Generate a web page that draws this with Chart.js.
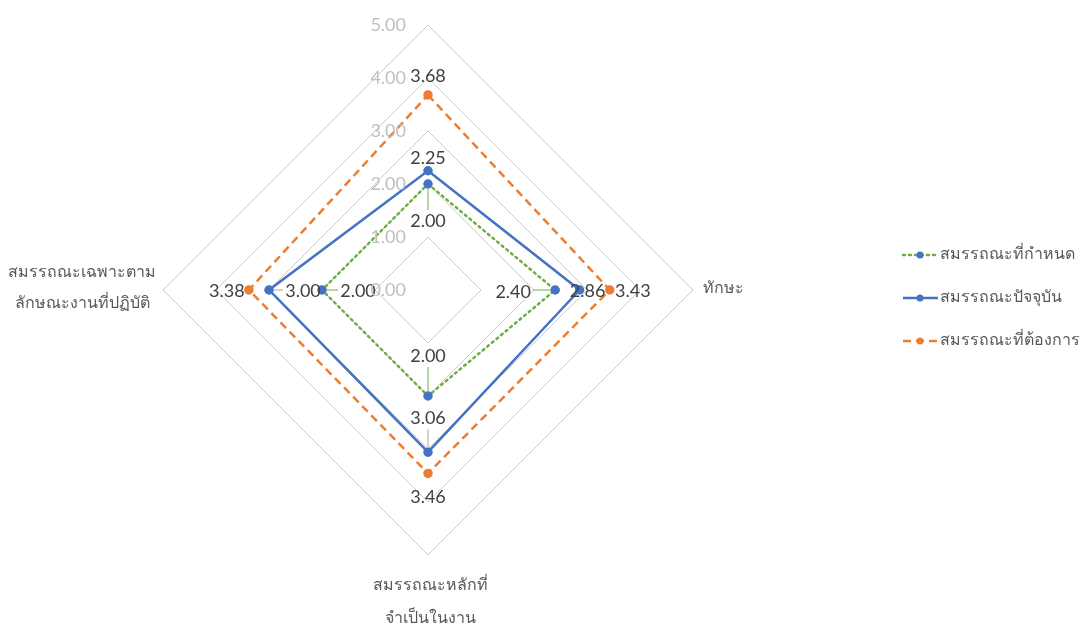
<!DOCTYPE html>
<html>
<head>
<meta charset="utf-8">
<script src="https://cdn.jsdelivr.net/npm/chart.js@4.4.1/dist/chart.umd.min.js"></script>
<style>
  html, body { margin: 0; padding: 0; background: #fff; }
</style>
</head>
<body>
<canvas id="myChart" width="1080" height="628"></canvas>
<script>
const categories = ["", "ทักษะ", ["สมรรถณะหลักที่", "จำเป็นในงาน"], ["สมรรถณะเฉพาะตาม", "ลักษณะงานที่ปฏิบัติ"]];
const seriesNames = ["สมรรถณะที่กำหนด", "สมรรถณะปัจจุบัน", "สมรรถณะที่ต้องการ"];
const definedValues = [2.00, 2.40, 2.00, 2.00];
const currentValues = [2.25, 2.86, 3.06, 3.00];
const desiredValues = [3.68, 3.43, 3.46, 3.38];
const tickValues = [0, 1, 2, 3, 4, 5];

const numFont = "18px Lato, 'Liberation Sans', sans-serif";
const thaiFont = "16px 'Noto Sans', sans-serif";

// label offsets per dataset / point (dx, dy from the point), plus leader line
const labelOffsets = [
  [[0, 37, "#70AD47"], [-42, 2, "#70AD47"], [0, -40, "#70AD47"], [36, 1, "#70AD47"]],
  [[0, -13], [8, 1], [0, -34, "#a6a6a6"], [34, 1, "#a6a6a6"]],
  [[0, -19], [23, 1], [0, 24], [-22, 1]]
];

const valueLabels = {
  id: "valueLabels",
  afterDatasetsDraw(chart) {
    const c = chart.ctx;
    c.save();
    c.font = numFont;
    c.textAlign = "center";
    c.textBaseline = "middle";
    chart.data.datasets.forEach((ds, i) => {
      const meta = chart.getDatasetMeta(i);
      meta.data.forEach((pt, j) => {
        const [dx, dy, lead] = labelOffsets[i][j];
        const x = pt.x + dx, y = pt.y + dy;
        if (lead) {
          c.strokeStyle = lead;
          c.lineWidth = 1;
          c.beginPath();
          if (dy !== 0 && Math.abs(dx) < 5) {
            const s = Math.sign(dy);
            c.moveTo(pt.x, y - s * 11);
            c.lineTo(pt.x, pt.y + s * 5);
          } else {
            const s = Math.sign(dx);
            c.moveTo(x - s * 20, pt.y);
            c.lineTo(pt.x + s * 4, pt.y);
          }
          c.stroke();
        }
        c.fillStyle = "#404040";
        c.fillText(ds.data[j].toFixed(2), x, y);
      });
    });
    c.restore();
  }
};

const axisText = {
  id: "axisText",
  afterDraw(chart) {
    const r = chart.scales.r;
    const c = chart.ctx;
    c.save();
    // tick labels
    c.font = numFont;
    c.fillStyle = "#bfbfbf";
    c.textAlign = "right";
    c.textBaseline = "middle";
    tickValues.forEach(v => {
      c.fillText(v.toFixed(2), r.xCenter - 22, r.yCenter - r.getDistanceFromCenterForValue(v));
    });
    // category labels
    c.font = thaiFont;
    c.fillStyle = "#595959";
    const R = r.drawingArea;
    const cx = r.xCenter, cy = r.yCenter;
    c.textAlign = "left";
    c.fillText(categories[1], cx + R + 10, cy - 2);
    c.textAlign = "center";
    categories[2].forEach((t, k) => c.fillText(t, cx + 2, cy + R + 30 + k * 33));
    categories[3].forEach((t, k) => c.fillText(t, 82, cy - 18 + k * 31));
    // legend
    chart.data.datasets.forEach((ds, k) => {
      const y = 255 + k * 43;
      c.strokeStyle = ds.borderColor;
      c.lineWidth = 2.5;
      c.lineCap = ds.borderCapStyle || "butt";
      c.setLineDash(ds.borderDash || []);
      c.beginPath();
      c.moveTo(903, y);
      c.lineTo(938, y);
      c.stroke();
      c.setLineDash([]);
      c.fillStyle = ds.pointBackgroundColor;
      c.beginPath();
      c.arc(920, y, 3.5, 0, Math.PI * 2);
      c.fill();
      c.fillStyle = "#595959";
      c.textAlign = "left";
      c.fillText(ds.label, 940, y - 1);
    });
    c.restore();
  }
};

new Chart(document.getElementById("myChart"), {
  type: "radar",
  data: {
    labels: categories,
    datasets: [
      {
        label: seriesNames[0],
        data: definedValues,
        borderColor: "#70AD47",
        borderWidth: 2.5,
        borderDash: [2, 4],
        borderCapStyle: "round",
        pointBackgroundColor: "#4472C4",
        pointBorderColor: "#4472C4",
        pointRadius: 3.5,
        fill: false
      },
      {
        label: seriesNames[1],
        data: currentValues,
        borderColor: "#4472C4",
        borderWidth: 2.5,
        pointBackgroundColor: "#4472C4",
        pointBorderColor: "#4472C4",
        pointRadius: 3.5,
        fill: false
      },
      {
        label: seriesNames[2],
        data: desiredValues,
        borderColor: "#ED7D31",
        borderWidth: 2.5,
        borderDash: [8, 5],
        pointBackgroundColor: "#ED7D31",
        pointBorderColor: "#ED7D31",
        pointRadius: 3.5,
        fill: false
      }
    ]
  },
  options: {
    responsive: false,
    animation: false,
    devicePixelRatio: 1,
    layout: { padding: { left: 163, right: 387, top: 25, bottom: 73 } },
    elements: { line: { tension: 0 } },
    plugins: { legend: { display: false }, tooltip: { enabled: false } },
    scales: {
      r: {
        min: 0,
        max: 5,
        ticks: { display: false, stepSize: 1 },
        grid: { color: "#cccccc", lineWidth: 1 },
        angleLines: { display: false },
        pointLabels: { display: false }
      }
    }
  },
  plugins: [valueLabels, axisText]
});
</script>
</body>
</html>
